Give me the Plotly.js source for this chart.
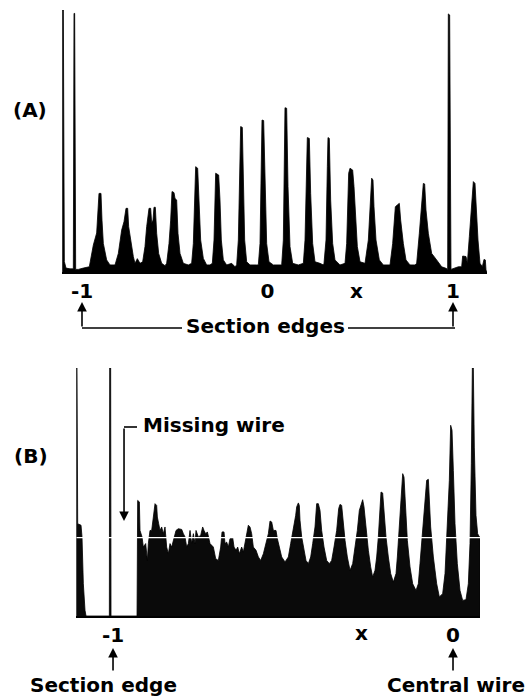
<!DOCTYPE html>
<html><head><meta charset="utf-8">
<script src="https://cdn.plot.ly/plotly-3.0.1.min.js"></script>
<style>html,body{margin:0;padding:0;background:#fff}#c{width:532px;height:697px}</style>
</head><body><div id="c"></div>
<script>
// Panel (A): histogram outline, x in section units (-1 .. 1 = section edges), counts in % of full scale
const A_x = [
-1.1042,-1.1042,-1.1006,-1.0952,-1.0863,-1.0647,-1.0467,-1.0431,-1.0395,-1.0341,-1.0198,-0.9928,-0.9605,
-0.9389,-0.9209,-0.9084,-0.8976,-0.8922,-0.8850,-0.8670,-0.8491,-0.8221,
-0.8041,-0.7862,-0.7736,-0.7628,-0.7538,-0.7484,-0.7376,-0.7233,-0.7143,-0.7017,-0.6873,
-0.6730,-0.6604,-0.6514,-0.6388,-0.6298,-0.6244,-0.6173,-0.6119,-0.6047,-0.5975,-0.5867,-0.5705,-0.5526,
-0.5436,-0.5310,-0.5220,-0.5148,-0.5040,-0.4987,-0.4897,-0.4825,-0.4717,-0.4537,-0.4268,
-0.4088,-0.3998,-0.3944,-0.3872,-0.3765,-0.3693,-0.3603,-0.3459,-0.3279,-0.3100,
-0.2974,-0.2884,-0.2794,-0.2633,-0.2561,-0.2489,-0.2381,-0.2201,-0.1932,-0.1752,
-0.1662,-0.1572,-0.1482,-0.1447,-0.1357,-0.1303,-0.1231,-0.1123,-0.0943,-0.0584,
-0.0494,-0.0404,-0.0332,-0.0296,-0.0207,-0.0135,-0.0045,0.0081,0.0314,0.0674,
0.0764,0.0854,0.0925,0.0943,0.1033,0.1105,0.1213,0.1357,0.1662,0.1932,
0.2022,0.2111,0.2147,0.2255,0.2327,0.2435,0.2561,0.2830,0.3010,
0.3046,0.3154,0.3226,0.3261,0.3333,0.3405,0.3513,0.3639,0.3908,0.4178,
0.4268,0.4376,0.4447,0.4591,0.4663,0.4735,0.4843,0.4987,0.5256,
0.5436,0.5526,0.5615,0.5687,0.5741,0.5849,0.6029,0.6244,0.6604,
0.6748,0.6837,0.6891,0.6999,0.7107,0.7179,0.7323,0.7466,0.7682,0.7951,
0.8041,0.8185,0.8293,0.8401,0.8473,0.8544,0.8670,0.8850,0.9119,0.9389,0.9623,
0.9712,0.9748,0.9820,0.9892,1.0108,1.0288,
1.0467,1.0521,1.0701,1.0773,
1.0881,1.1006,1.1096,1.1186,1.1240,1.1348,1.1456,1.1581,1.1671,1.1743,1.1779,1.1815
];
const A_counts = [
0,100,100,4,1.5,1.2,1.2,98.7,98.7,1.0,1.0,1.5,2.0,
10.3,14.9,30.0,30.0,19.8,10.9,4.6,2.7,2.7,
7.1,16.0,19.2,24.3,24.3,17.3,12.2,5.9,3.3,5.1,3.3,
3.9,9.7,17.3,24.3,24.3,18.6,19.8,24.7,24.7,14.8,7.1,3.3,2.4,
3.3,10.9,19.8,30.7,30.3,28.1,27.5,14.8,7.1,3.3,2.7,
3.3,10.9,21.1,40.2,39.6,27.5,12.2,5.2,2.7,2.7,
3.3,12.2,37.7,37.0,27.5,12.2,4.6,2.7,3.3,2.0,
2.7,12.2,40.2,55.5,55.2,32.6,12.2,3.9,2.7,2.7,
2.7,10.9,40.2,58.0,57.8,32.6,10.9,3.9,2.7,2.7,
2.7,12.2,46.6,62.7,62.5,32.6,9.7,3.3,2.7,3.3,
12.2,40.2,51.3,51.0,30.0,10.9,3.9,3.3,2.7,
3.3,12.2,40.2,51.3,51.0,27.5,10.9,4.6,2.7,3.3,
10.9,37.7,39.6,38.9,32.6,21.1,9.7,3.9,3.3,
12.2,24.9,35.8,35.1,24.9,12.2,4.6,2.7,2.7,
10.9,22.4,24.9,25.6,26.2,19.8,10.9,4.6,2.7,2.7,
3.3,14.8,23.7,33.8,33.6,23.7,14.8,7.1,4.6,2.0,1.4,
1.0,98.5,98.1,1.0,1.4,2.0,
2.0,6.1,5.9,3.3,
13.5,27.5,34.5,33.8,24.9,12.2,3.3,2.0,4.8,4.6,0.8,0
];
const A_tickvals = [-1, 0, 1];
const A_ticktext = ['-1', '0', '1'];

// Panel (B): x from section edge (-1) to central wire (0)
const B_x = [
-1.1078,-1.1078,-1.1059,-1.1039,-1.0941,-1.0912,-1.0873,-1.0824,-1.0794,
-1.0108,-1.0098,-1.0069,-1.0059,
-0.9294,-0.9284,-0.9275,-0.9225,-0.9206,-0.9147,-0.9108,-0.9039,-0.8990,-0.8961,
-0.8912,-0.8863,-0.8814,-0.8765,-0.8716,-0.8696,-0.8657,-0.8618,-0.8569,-0.8520,
-0.8471,-0.8422,-0.8373,-0.8324,-0.8275,-0.8206,-0.8147,-0.8078,-0.7980,-0.7931,
-0.7882,-0.7833,-0.7784,-0.7735,-0.7686,-0.7637,-0.7588,-0.7559,-0.7490,-0.7422,
-0.7363,-0.7324,-0.7275,-0.7225,-0.7147,-0.7049,-0.6980,-0.6902,-0.6833,-0.6794,
-0.6735,-0.6706,-0.6657,-0.6608,-0.6559,-0.6480,-0.6441,-0.6382,-0.6333,-0.6284,
-0.6216,-0.6167,-0.6118,-0.6069,-0.6020,-0.5971,-0.5922,-0.5873,-0.5794,-0.5725,
-0.5657,-0.5578,-0.5500,-0.5431,-0.5382,-0.5333,-0.5284,-0.5206,-0.5167,-0.5108,
-0.5039,-0.4941,-0.4843,-0.4775,-0.4696,-0.4627,-0.4598,-0.4549,-0.4520,-0.4500,
-0.4451,-0.4382,-0.4324,-0.4255,-0.4186,-0.4127,-0.4059,-0.4010,-0.3961,-0.3912,
-0.3863,-0.3794,-0.3716,-0.3637,-0.3569,-0.3500,-0.3422,-0.3363,-0.3324,-0.3275,
-0.3245,-0.3176,-0.3108,-0.3029,-0.2951,-0.2882,-0.2814,-0.2755,-0.2686,-0.2657,
-0.2618,-0.2559,-0.2490,-0.2422,-0.2363,-0.2294,-0.2245,-0.2196,-0.2147,-0.2118,
-0.2069,-0.2029,-0.1971,-0.1902,-0.1833,-0.1755,-0.1676,-0.1637,-0.1578,-0.1510,
-0.1480,-0.1441,-0.1402,-0.1343,-0.1265,-0.1186,-0.1088,-0.1020,-0.0971,-0.0892,
-0.0824,-0.0775,-0.0725,-0.0696,-0.0657,-0.0578,-0.0480,-0.0402,-0.0304,-0.0235,
-0.0167,-0.0108,-0.0069,-0.0029,0.0010,0.0059,0.0127,0.0206,0.0284,0.0382,
0.0451,0.0500,0.0539,0.0569,0.0598,0.0627,0.0676,0.0725,0.0775,0.0794,0.0794
];
const B_counts = [
0,100,100,37.2,36.6,31.9,13.0,2.3,0,
0,100,100,0,
0,29.2,46.6,46.0,34.5,31.9,27.8,29.2,22.4,29.2,
34.5,34.5,39.9,45.3,44.6,39.9,37.2,34.5,35.9,33.2,
35.9,27.8,25.1,29.2,27.8,31.9,34.5,35.2,34.9,33.2,
31.9,27.8,29.2,34.5,29.2,33.2,29.2,34.5,31.9,32.5,
35.9,34.5,33.2,33.9,29.2,27.8,23.1,22.4,27.8,33.9,
33.9,29.2,29.8,27.8,31.2,31.6,27.8,26.5,27.8,25.1,
27.8,25.8,29.2,31.9,36.6,35.9,33.2,27.8,26.5,23.8,
22.4,25.1,29.2,33.2,38.3,37.9,34.5,34.5,31.2,27.8,
23.8,21.8,23.8,29.2,34.5,40.6,44.0,45.6,44.6,38.6,
31.9,26.5,22.4,21.1,23.8,29.2,35.9,45.3,45.3,42.6,
34.5,27.8,22.4,21.1,22.4,27.8,34.5,43.3,45.0,44.6,
39.9,30.5,23.8,18.4,21.1,27.8,34.5,42.6,45.3,46.9,
44.0,34.5,26.5,19.8,15.7,18.4,23.8,31.9,42.6,50.0,
49.6,42.6,31.9,23.8,17.1,13.7,17.1,23.8,37.2,53.4,
57.4,56.0,45.3,30.5,19.8,13.0,10.3,13.0,21.1,34.5,
48.0,54.7,55.1,48.0,35.9,23.8,13.0,7.7,9.0,17.1,
34.5,54.7,76.9,74.9,58.7,37.2,21.1,10.3,6.3,6.6,
13.0,29.2,61.4,100,100,68.1,40.6,33.2,31.9,31.9,0
];
const B_tickvals = [-1, 0];
const B_ticktext = ['-1', '0'];

const W = 532, H = 697;
const PX = p => p / W, PY = p => 1 - p / H;
const FONT = {family: 'DejaVu Sans', size: 20, color: '#000', weight: 'bold'};

const traces = [
  {x: A_x, y: A_counts, xaxis: 'x', yaxis: 'y', type: 'scatter', mode: 'lines', fill: 'tozeroy',
   fillcolor: '#000', line: {color: '#000', width: 0.8}, hoverinfo: 'skip'},
  {x: B_x, y: B_counts, xaxis: 'x2', yaxis: 'y2', type: 'scatter', mode: 'lines', fill: 'tozeroy',
   fillcolor: '#0a0a0a', line: {color: '#000', width: 0.8}, hoverinfo: 'skip'}
];

const xcommon = {showline: true, linecolor: '#000', linewidth: 2, ticks: '', showgrid: false,
  zeroline: false, tickfont: FONT, ticklabelstandoff: 0, fixedrange: true};

const arrow = (xref, x, yHead, ay) => ({xref: xref, x: x, yref: 'paper', y: PY(yHead), text: '',
  showarrow: true, arrowhead: 2, arrowsize: 1.2, arrowwidth: 1.6, arrowcolor: '#000', ax: 0, ay: ay});
const label = (text, px, py, xanchor) => ({xref: 'paper', yref: 'paper', x: PX(px), y: PY(py), text: text,
  showarrow: false, font: FONT, xanchor: xanchor || 'center', yanchor: 'middle'});

const layout = {
  width: W, height: H, margin: {l: 0, r: 0, t: 0, b: 0},
  paper_bgcolor: '#fff', plot_bgcolor: '#fff', showlegend: false,
  xaxis: Object.assign({}, xcommon, {domain: [PX(62), PX(487)], range: [-1.1078, 1.1833], anchor: 'y',
    tickvals: A_tickvals, ticktext: A_ticktext}),
  yaxis: {domain: [PY(272), PY(10)], range: [0, 100], visible: false, fixedrange: true},
  xaxis2: Object.assign({}, xcommon, {domain: [PX(76.3), PX(480)], range: [-1.108, 0.0794], anchor: 'y2',
    tickvals: B_tickvals, ticktext: B_ticktext}),
  yaxis2: {domain: [PY(616), PY(368)], range: [0, 100], visible: false, fixedrange: true},
  annotations: [
    label('(A)', 30, 110),
    label('(B)', 31, 456),
    {xref: 'x', x: 0.481, yref: 'paper', y: PY(291), text: 'x', showarrow: false, font: FONT, yanchor: 'middle'},
    {xref: 'x2', x: -0.2685, yref: 'paper', y: PY(633), text: 'x', showarrow: false, font: FONT, yanchor: 'middle'},
    label('Section edges', 265, 326),
    arrow('x', -1, 302, 26),
    arrow('x', 1, 302, 26),
    label('Missing wire', 141, 425, 'left'),
    arrow('x2', -0.9676, 521, -94),
    label('Section edge', 103, 685),
    label('Central wire', 456, 685),
    arrow('x2', -1, 648, 24),
    arrow('x2', 0, 648, 24)
  ],
  shapes: [
    {type: 'line', xref: 'paper', yref: 'paper', x0: PX(82), x1: PX(182), y0: PY(328), y1: PY(328), line: {color: '#000', width: 1.6}},
    {type: 'line', xref: 'paper', yref: 'paper', x0: PX(348), x1: PX(455), y0: PY(328), y1: PY(328), line: {color: '#000', width: 1.6}},
    {type: 'line', xref: 'paper', yref: 'paper', x0: PX(124), x1: PX(137), y0: PY(427), y1: PY(427), line: {color: '#000', width: 1.6}},
    {type: 'line', xref: 'x2', yref: 'y2', x0: -1.108, x1: 0.0794, y0: 31.6, y1: 31.6, layer: 'above', line: {color: '#fff', width: 1.2}}
  ]
};

Plotly.newPlot('c', traces, layout, {staticPlot: true, displayModeBar: false});
</script>
</body></html>
